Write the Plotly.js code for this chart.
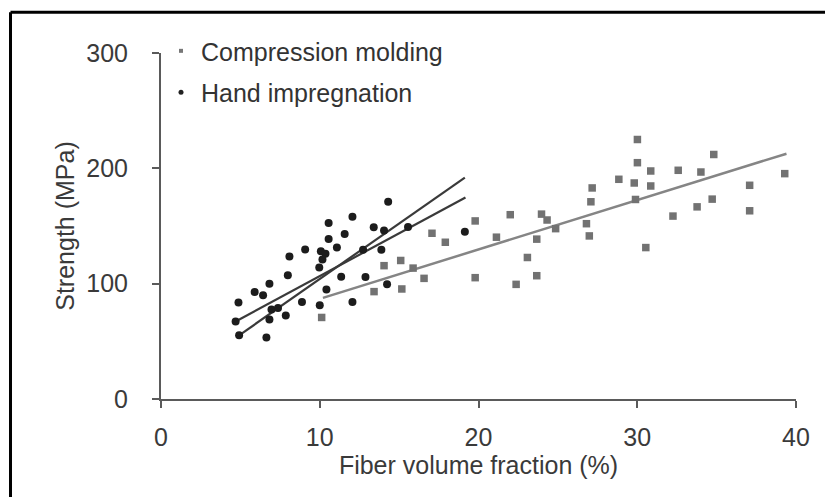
<!DOCTYPE html>
<html>
<head>
<meta charset="utf-8">
<script src="https://cdn.plot.ly/plotly-3.0.1.min.js"></script>
<style>html,body{margin:0;padding:0;background:#fff;}#chart{width:825px;height:497px;}</style>
</head>
<body>
<div id="chart"></div>
<script>
// Compression molding
const cmX = [10.12,13.42,14.05,15.10,15.17,15.88,16.57,17.07,17.91,19.79,19.79,21.13,22.0,22.37,23.08,23.67,23.67,23.97,24.32,24.86,26.80,26.98,27.08,27.16,28.84,29.81,30.01,30.01,29.89,30.54,30.85,30.85,32.25,32.58,34.01,33.77,34.82,34.72,37.08,37.08,39.29];
const cmY = [70.7,93.1,115.6,120.1,95.4,113.5,104.6,143.7,135.9,154.4,105.2,140.3,159.8,99.4,122.7,138.6,106.9,160.3,155.2,147.7,152,141.4,171,183,190.5,187.3,204.9,225,173,131.3,197.7,184.7,158.6,198.3,196.8,166.6,212,173.3,185.3,163.2,195.4];
// Hand impregnation
const hiX = [4.88,4.70,4.92,5.90,6.43,6.83,6.64,6.83,6.96,7.37,7.86,7.99,8.09,8.88,9.08,10.0,10.42,10.07,10.36,10.17,9.97,10.56,10.56,11.08,11.57,11.35,12.06,12.73,12.88,12.06,13.40,13.88,14.05,14.31,14.24,15.56,19.14];
const hiY = [83.6,67.2,55.2,92.8,89.9,100,53.4,69,77.6,79,72.4,107.2,123.5,84.2,129.6,81.2,95,128,126,121,114,152.5,138.8,131.3,143,106,158,129.3,105.8,84.2,148.9,129.5,146,171,99.4,149.2,145.1];
// Fitted lines
const fitHiAX = [4.70,19.18], fitHiAY = [67.2,174.7];
const fitHiBX = [4.92,19.14], fitHiBY = [55.2,192];
const fitCmX = [10.2,39.4], fitCmY = [87.7,212.7];
const seriesNames = ["Compression molding","Hand impregnation"];
const xTicks = [0,10,20,30,40];
const yTicks = [0,100,200,300];

const FONT = "Liberation Sans, Arial, sans-serif";
const traces = [
  {x: fitCmX, y: fitCmY, mode:'lines', line:{color:'#858585', width:2.5}, showlegend:false, hoverinfo:'skip'},
  {x: fitHiAX, y: fitHiAY, mode:'lines', line:{color:'#3a3a3a', width:2.2}, showlegend:false, hoverinfo:'skip'},
  {x: fitHiBX, y: fitHiBY, mode:'lines', line:{color:'#3a3a3a', width:2.2}, showlegend:false, hoverinfo:'skip'},
  {x: cmX, y: cmY, mode:'markers', name: seriesNames[0], legendgroup:'a', showlegend:false,
   marker:{symbol:'square', size:7.5, color:'#727272'}},
  {x: hiX, y: hiY, mode:'markers', name: seriesNames[1], legendgroup:'b', showlegend:false,
   marker:{symbol:'circle', size:8, color:'#1c1c1c'}},
  {x:[null], y:[null], mode:'markers', name: seriesNames[0], legendgroup:'a', showlegend:true,
   marker:{symbol:'square', size:4, color:'#777'}},
  {x:[null], y:[null], mode:'markers', name: seriesNames[1], legendgroup:'b', showlegend:true,
   marker:{symbol:'circle', size:5, color:'#222'}}
];

const axisCommon = {
  showline:true, linecolor:'#5a5a5a', linewidth:2,
  ticks:'outside', ticklen:7, tickwidth:2, tickcolor:'#5a5a5a',
  showgrid:false, zeroline:false,
  tickfont:{family:FONT, size:25, color:'#3a3a3a'}
};

const layout = {
  width:825, height:497,
  margin:{l:161, r:29, t:53, b:98},
  paper_bgcolor:'#fff', plot_bgcolor:'#fff',
  font:{family:FONT, color:'#3a3a3a'},
  xaxis: Object.assign({}, axisCommon, {
    range:[0,40], tickvals:xTicks, ticktext:xTicks.map(String),
    ticklabelstandoff:8,
    title:{text:'Fiber volume fraction (%)', font:{family:FONT, size:25, color:'#3a3a3a'}, standoff:4}
  }),
  yaxis: Object.assign({}, axisCommon, {
    range:[0,300], tickvals:yTicks, ticktext:yTicks.map(String),
    ticklabelstandoff:19,
    title:{text:'Strength (MPa)', font:{family:FONT, size:25, color:'#3a3a3a'}, standoff:5}
  }),
  showlegend:true,
  legend:{x:0.0, y:1.072, xanchor:'left', yanchor:'top', bgcolor:'rgba(0,0,0,0)',
    font:{family:FONT, size:25, color:'#333'}, traceorder:'grouped', tracegroupgap:6, itemwidth:30},
  shapes:[
    {type:'line', xref:'paper', yref:'paper', x0:-0.237, x1:1.1, y0:1.118, y1:1.118, line:{color:'#000', width:3}},
    {type:'line', xref:'paper', yref:'paper', x0:-0.237, x1:-0.237, y0:1.118, y1:-0.35, line:{color:'#000', width:3}}
  ]
};

Plotly.newPlot('chart', traces, layout, {displayModeBar:false, staticPlot:true});
</script>
</body>
</html>
